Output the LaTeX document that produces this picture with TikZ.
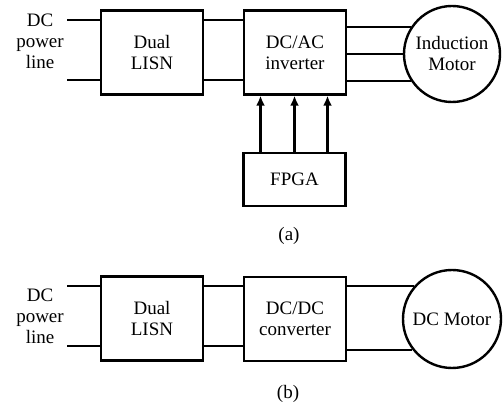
\documentclass[tikz,border=0pt]{standalone}
\usepackage{fontspec}
\setmainfont{Liberation Serif}
\usetikzlibrary{arrows.meta}

\begin{document}
\begin{tikzpicture}[x=0.5pt, y=-0.5pt, line width=1.2pt,
  blk/.style={draw, align=center, minimum width=51pt, minimum height=42pt, inner sep=0pt},
  mot/.style={draw, circle, align=center, minimum size=48pt, inner sep=0pt},
  >={Latex[length=5pt,width=4.5pt]}]

  \fontsize{9.5}{10.5}\selectfont
  \useasboundingbox (0,0) rectangle (504,411);

  %% (a) induction motor drive
  \node[align=center] (srcA) at (40,41) {DC\\power\\line};
  \node[blk] (lisnA) at (152,52.5) {Dual\\LISN};
  \node[blk] (invA) at (295,52.5) {DC/AC\\inverter};
  \node[mot, minimum size=48pt] (motA) at (452,54) {Induction\\Motor};
  \node[blk, minimum height=26.5pt] (fpga) at (294.5,179.5) {FPGA};
  \node (capA) at (289,236) {(a)};

  \coordinate (inA1) at (67,20);
  \coordinate (inA2) at (67,80);
  \draw (inA1) -- (inA1 -| lisnA.west);
  \draw (inA2) -- (inA2 -| lisnA.west);

  \draw ([yshift=16.25pt]lisnA.east) -- ([yshift=16.25pt]invA.west); %% LISN->inverter
  \draw ([yshift=-13.75pt]lisnA.east) -- ([yshift=-13.75pt]invA.west);

  \draw (motA.147) -- (motA.147 -| invA.east); %% inverter->motor
  \draw (motA.180) -- (motA.180 -| invA.east);
  \draw (motA.213) -- (motA.213 -| invA.east);

  \foreach \dx in {-17,0,16.5}
    \draw[->] ([xshift=\dx pt]fpga.north) -- ([xshift=\dx pt]fpga.north |- invA.south); %% FPGA->inverter

  %% (b) DC motor drive
  \node[align=center] (srcB) at (40,316) {DC\\power\\line};
  \node[blk] (lisnB) at (152,318.5) {Dual\\LISN};
  \node[blk] (convB) at (295,319) {DC/DC\\converter};
  \node[mot, minimum size=49pt] (motB) at (452,319) {DC Motor};
  \node (capB) at (288,394) {(b)};

  \coordinate (inB1) at (67,286);
  \coordinate (inB2) at (67,346);
  \draw (inB1) -- (inB1 -| lisnB.west);
  \draw (inB2) -- (inB2 -| lisnB.west);

  \draw ([yshift=16.25pt]lisnB.east) -- ([yshift=16.25pt]lisnB.east -| convB.west); %% LISN->converter
  \draw ([yshift=-13.75pt]lisnB.east) -- ([yshift=-13.75pt]lisnB.east -| convB.west);

  \draw (motB.139) -- (motB.139 -| convB.east); %% converter->motor
  \draw (motB.218) -- (motB.218 -| convB.east);

\end{tikzpicture}
\end{document}
